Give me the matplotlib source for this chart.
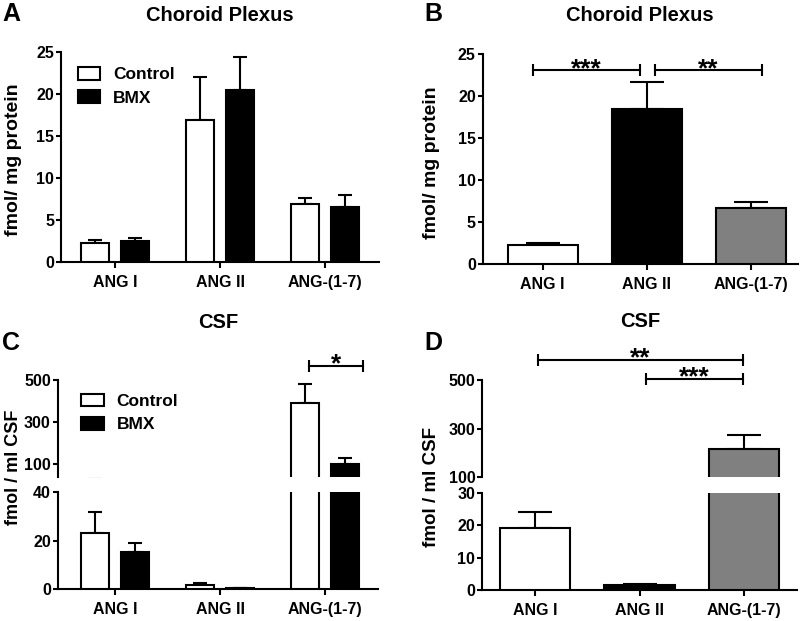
import matplotlib
matplotlib.use("Agg")
import matplotlib.pyplot as plt
import matplotlib.patches as mpatches
import numpy as np

plt.rcParams["font.family"] = ["Liberation Sans", "DejaVu Sans"]
plt.rcParams["font.weight"] = "bold"

# ── Data ──────────────────────────────────────────────────────────────────────
cats = ["ANG I", "ANG II", "ANG-(1-7)"]

# Choroid plexus, fmol / mg protein
cp_ctrl      = [2.3, 16.9, 6.9]
cp_ctrl_err  = [0.3, 5.2, 0.75]
cp_bmx       = [2.5, 20.5, 6.6]
cp_bmx_err   = [0.35, 3.9, 1.4]
cp_pool      = [2.3, 18.5, 6.75]
cp_pool_err  = [0.27, 3.2, 0.68]

# CSF, fmol / ml CSF
csf_ctrl     = [23.3, 1.8, 392]
csf_ctrl_err = [8.5, 1.0, 88]
csf_bmx      = [15.5, 0.5, 100]
csf_bmx_err  = [3.6, 0.2, 31]
csf_pool     = [19.2, 1.4, 217]
csf_pool_err = [4.8, 0.5, 59]

POOL_COLORS = ["white", "black", "#808080"]
LW = 1.5
W, H = 805, 621
x = np.arange(len(cats))


def px_axes(left, right, top, bottom):
    """figure rect from pixel coords of the reference"""
    return [left / W, 1 - bottom / H, (right - left) / W, (bottom - top) / H]


def style(ax, xticks=True):
    for s in ["top", "right"]:
        ax.spines[s].set_visible(False)
    for s in ["left", "bottom"]:
        ax.spines[s].set_linewidth(LW)
    ax.tick_params(axis="y", width=LW, length=3.5, pad=1.5, labelsize=11.5)
    if xticks:
        ax.set_xticks(x)
        ax.set_xticklabels(cats)
        ax.tick_params(axis="x", width=LW, length=4.5, pad=5, labelsize=11.5)
    else:
        ax.spines["bottom"].set_visible(False)
        ax.set_xticks([])


def bars_pair(ax, c, ce, b, be):
    for off, vals, err, col in [(-0.19, c, ce, "white"), (0.19, b, be, "black")]:
        ax.bar(x + off, vals, 0.26, color=col, edgecolor="black", lw=LW, zorder=3)
        ax.errorbar(x + off, vals, yerr=[np.zeros(3), err], fmt="none",
                    ecolor="black", elinewidth=LW, capsize=4.7, capthick=LW, zorder=2)


def bars_pool(ax, v, e):
    ax.bar(x, v, 0.67, color=POOL_COLORS, edgecolor="black", lw=LW, zorder=3)
    ax.errorbar(x, v, yerr=[np.zeros(3), e], fmt="none", ecolor="black",
                elinewidth=LW, capsize=12.3, capthick=LW, zorder=2)


def bracket(ax, x1, x2, y, stars):
    ax.plot([x1, x2], [y, y], color="black", lw=LW, clip_on=False,
            marker="|", markersize=9, markeredgewidth=LW)
    ax.annotate(stars, xy=((x1 + x2) / 2, y), xytext=(0, -4),
                textcoords="offset points", ha="center", va="baseline",
                fontsize=19, fontweight="bold", annotation_clip=False)


def legend(ax, anchor):
    h = [mpatches.Patch(facecolor="white", edgecolor="black", lw=LW, label="Control"),
         mpatches.Patch(facecolor="black", edgecolor="black", lw=LW, label="BMX")]
    ax.legend(handles=h, loc="upper left", bbox_to_anchor=anchor, frameon=False,
              prop={"size": 12.5, "weight": "bold"}, handlelength=1.3,
              handleheight=0.75, handletextpad=0.75, labelspacing=0.45,
              borderaxespad=0, borderpad=0)


fig = plt.figure(figsize=(W / 100, H / 100), dpi=100)

# ── A: choroid plexus, control vs BMX ────────────────────────────────────────
axA = fig.add_axes(px_axes(61, 379, 52.3, 262.3))
bars_pair(axA, cp_ctrl, cp_ctrl_err, cp_bmx, cp_bmx_err)
axA.set_ylim(0, 25)
axA.set_yticks([0, 5, 10, 15, 20, 25])
axA.set_xlim(-0.514, 2.514)
style(axA)
legend(axA, (0.052, 0.93))

# ── B: choroid plexus, pooled ────────────────────────────────────────────────
axB = fig.add_axes(px_axes(482.7, 798, 54.3, 264.3))
bars_pool(axB, cp_pool, cp_pool_err)
axB.set_ylim(0, 25)
axB.set_yticks([0, 5, 10, 15, 20, 25])
axB.set_xlim(-0.577, 2.455)
style(axB)
bracket(axB, -0.093, 0.94, 23.1, "***")
bracket(axB, 1.08, 2.105, 23.1, "**")

# ── C: CSF, control vs BMX (broken axis) ─────────────────────────────────────
axC = fig.add_axes(px_axes(57.7, 377.7, 492.3, 589.3))
axCu = fig.add_axes(px_axes(57.7, 377.7, 380, 477))
for ax in (axC, axCu):
    bars_pair(ax, csf_ctrl, csf_ctrl_err, csf_bmx, csf_bmx_err)
    ax.set_xlim(-0.546, 2.502)
axC.set_ylim(0, 40)
axC.set_yticks([0, 20, 40])
axCu.set_ylim(40, 500)
axCu.set_yticks([100, 300, 500])
style(axC)
style(axCu, xticks=False)
axCu.patch.set_visible(False)
bracket(axCu, 1.85, 2.36, 568, "*")
legend(axCu, (0.073, 0.86))

# ── D: CSF, pooled (broken axis) ─────────────────────────────────────────────
axD = fig.add_axes(px_axes(482.3, 796.7, 492.7, 590))
axDu = fig.add_axes(px_axes(482.3, 796.7, 380.3, 477.3))
for ax in (axD, axDu):
    bars_pool(ax, csf_pool, csf_pool_err)
    ax.set_xlim(-0.504, 2.504)
axD.set_ylim(0, 30)
axD.set_yticks([0, 10, 20, 30])
axDu.set_ylim(100, 500)
axDu.set_yticks([100, 300, 500])
style(axD)
style(axDu, xticks=False)
axDu.patch.set_visible(False)
bracket(axDu, 0.03, 1.99, 584, "**")
bracket(axDu, 1.06, 1.99, 505, "***")

# ── titles, y labels, panel letters ──────────────────────────────────────────
for cx, by, t in [(220, 20.7, "Choroid Plexus"), (640, 20.7, "Choroid Plexus"),
                  (218, 328.3, "CSF"), (640, 326.7, "CSF")]:
    fig.text(cx / W, 1 - by / H, t, ha="center", va="baseline",
             fontsize=14.5, fontweight="bold")

for cx, cy, fs, t in [(14, 160, 14, "fmol/ mg protein"), (431, 163, 14, "fmol/ mg protein"),
                      (13, 467.5, 13, "fmol / ml CSF"), (431.5, 486.7, 13.5, "fmol / ml CSF")]:
    fig.text(cx / W, 1 - cy / H, t, ha="center", va="center", rotation=90,
             fontsize=fs, fontweight="bold")

for lx, by, t in [(2, 20.7, "A"), (424, 20.7, "B"), (2, 350, "C"), (424, 350, "D")]:
    fig.text(lx / W, 1 - by / H, t, ha="left", va="baseline",
             fontsize=18, fontweight="bold")

fig.savefig("out.png", dpi=100)
